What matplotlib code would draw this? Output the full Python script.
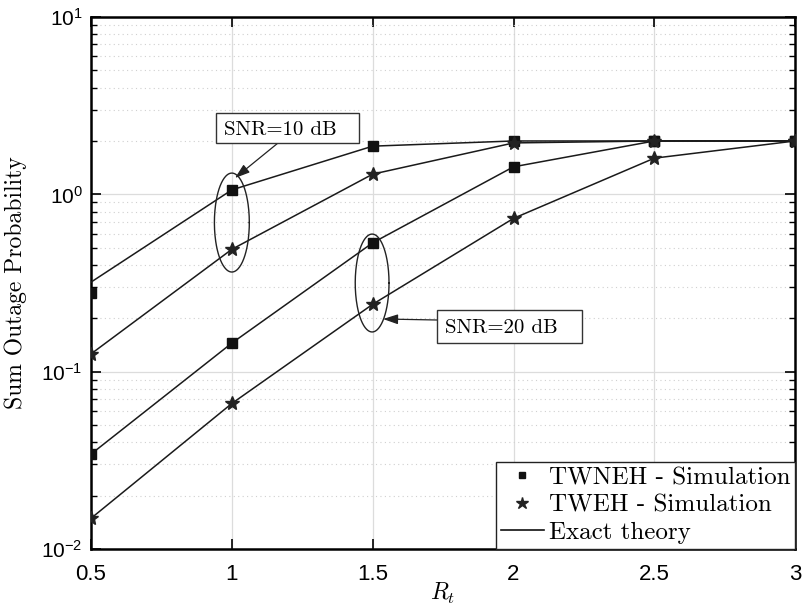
import numpy as np
import matplotlib
matplotlib.use('Agg')
import matplotlib.pyplot as plt
from matplotlib.lines import Line2D
from matplotlib.patches import Rectangle

plt.rcParams['font.family'] = ['Liberation Sans', 'DejaVu Sans']
plt.rcParams['mathtext.fontset'] = 'cm'
plt.rcParams['axes.unicode_minus'] = False

# data
rt = [0.5, 1.0, 1.5, 2.0, 2.5, 3.0]
twneh_10_sim = [0.277, 1.06, 1.87, 2.0, 2.0, 2.0]
twneh_10_th = [0.32, 1.06, 1.87, 2.0, 2.0, 2.0]
tweh_10_sim = [0.126, 0.49, 1.30, 1.95, 2.0, 2.0]
twneh_20_sim = [0.0343, 0.145, 0.533, 1.43, 2.0, 2.0]
tweh_20_sim = [0.0149, 0.0662, 0.240, 0.732, 1.60, 2.0]

serif = 'cmr10'
W, H = 802, 608

fig = plt.figure(figsize=(8.02, 6.08), dpi=100)
ax = fig.add_axes([0.1135, 0.097, 0.878, 0.875])

# theory lines
for th in [twneh_10_th, tweh_10_sim, twneh_20_sim, tweh_20_sim]:
    ax.plot(rt, th, color='#1a1a1a', lw=1.1, zorder=3)

# simulation markers
for sim in [twneh_10_sim, twneh_20_sim]:
    ax.plot(rt, sim, ls='none', marker='s', ms=6.5, color='#111111', zorder=4)
for sim in [tweh_10_sim, tweh_20_sim]:
    ax.plot(rt, sim, ls='none', marker='*', ms=10, color='#222222',
            markeredgecolor='#222222', zorder=4)

ax.set_yscale('log')
ax.set_xlim(0.5, 3)
ax.set_ylim(1e-2, 1e1)
ax.set_xticks([0.5, 1, 1.5, 2, 2.5, 3])
ax.set_xticklabels(['0.5', '1', '1.5', '2', '2.5', '3'])

ax.grid(True, which='major', color='#dcdcdc', lw=0.9, ls='-')
ax.grid(True, which='minor', axis='y', color='#d0d0d0', lw=0.8, ls=(0, (1, 3)))
ax.set_axisbelow(True)

ax.tick_params(which='both', direction='in', top=True, right=True)
ax.tick_params(axis='x', pad=11, labelsize=16)
ax.tick_params(axis='y', pad=6, labelsize=15)
ax.tick_params(which='major', length=7, width=1.2)
ax.tick_params(which='minor', length=4, width=1.0)
for s in ax.spines.values():
    s.set_linewidth(1.8)

ax.set_ylabel('Sum Outage Probability', fontfamily=serif, fontsize=17, labelpad=10)
ax.set_xlabel(r'$R_t$', fontsize=17, labelpad=-3)

# ellipses around marker pairs (x half width in data units, y in decades)
t = np.linspace(0, 2 * np.pi, 200)
for cx, cy, a, b in [(1.0, -0.159, 0.062, 0.279), (1.498, -0.50, 0.060, 0.276)]:
    ax.plot(cx + a * np.cos(t), 10 ** (cy + b * np.sin(t)), color='#222222', lw=1.0, zorder=5)

# text boxes (pixel positions from the top-left corner of the figure)
for label, (x0, y0, x1, y1) in [('SNR=10 dB', (216, 113, 359, 143)),
                                ('SNR=20 dB', (437, 310, 582, 343))]:
    fig.patches.append(Rectangle((x0 / W, 1 - y1 / H), (x1 - x0) / W, (y1 - y0) / H,
                                 transform=fig.transFigure, fc='white', ec='#333333',
                                 lw=1.0, zorder=6))
    fig.text((x0 + 8) / W, 1 - (y0 + y1) / 2 / H, label, fontfamily=serif, fontsize=15,
             ha='left', va='center_baseline', zorder=7)

arr = dict(arrowstyle='-|>,head_length=0.9,head_width=0.3', color='#222222', lw=0.9,
           shrinkA=0, shrinkB=0)
for (xs, ys), (xe, ye) in [((278, 143), (235, 178)), ((437, 320), (383, 319))]:
    ax.annotate('', xy=(xe / W, 1 - ye / H), xycoords='figure fraction',
                xytext=(xs / W, 1 - ys / H), textcoords='figure fraction',
                arrowprops=arr, zorder=6)

handles = [
    Line2D([], [], ls='none', marker='s', ms=5, color='#111111'),
    Line2D([], [], ls='none', marker='*', ms=9, color='#222222'),
    Line2D([], [], color='#111111', lw=1.2),
]
leg = ax.legend(handles, ['TWNEH - Simulation', 'TWEH - Simulation', 'Exact theory'],
                loc='lower right', prop={'family': serif, 'size': 18},
                fancybox=False, framealpha=1, edgecolor='#222222',
                borderpad=0.2, handlelength=1.7, handletextpad=0.2,
                labelspacing=0.2, borderaxespad=0.0)
leg.get_frame().set_linewidth(1.0)
leg.set_zorder(8)

fig.savefig('out.png', dpi=100)
